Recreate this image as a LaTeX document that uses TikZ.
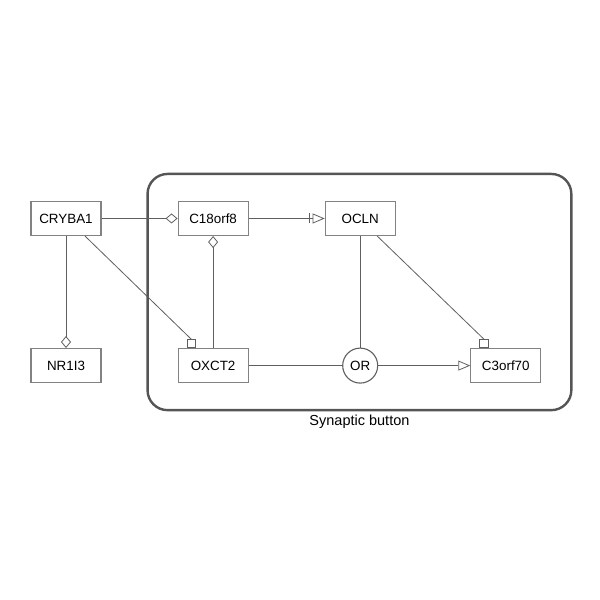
\documentclass[tikz,border=0pt]{standalone}
\usepackage{fontspec}
\setmainfont{Liberation Sans}
\usepackage{tikz}
\usetikzlibrary{arrows.meta, positioning, fit}
\definecolor{edgegray}{RGB}{95,95,95}
\definecolor{boxgray}{RGB}{130,130,130}
\definecolor{groupgray}{RGB}{85,85,85}

\begin{document}
\begin{tikzpicture}[x=1pt, y=1pt,
   node distance=76pt and 76pt,
   gene/.style={draw=boxgray, line width=1.1pt, minimum width=70pt,
                minimum height=34pt, inner sep=2pt,
                font=\fontsize{13.4}{15}\selectfont},
   gate/.style={gene, draw=edgegray, circle, minimum width=35pt,
                minimum height=35pt, inner sep=0pt},
   link/.style={draw=edgegray, line width=0.8pt},
   bind/.style={link, -{Diamond[open, length=12pt, width=10pt]}},
   reg/.style={link, -{Square[open, length=9pt, width=9pt]}},
   act/.style={link, -{Triangle[open, length=12pt, width=10pt]}},
   inh/.style={link, -{Bar[width=10pt, sep=3pt]Triangle[open, length=12pt, width=10pt]}},
   compartment/.style={draw=groupgray, line width=2.4pt, rounded corners=20pt,
                       inner xsep=30pt, inner ysep=27pt}]

  \useasboundingbox (0,0) rectangle (600,600);

  \node[gene] (cryba) at (66,381.5) {CRYBA1};
  \node[gene, right=76pt of cryba] (c18) {C18orf8};
  \node[gene, right=76pt of c18] (ocln) {OCLN};
  \node[gene, below=112pt of cryba] (nr1i3) {NR1I3};
  \node[gene, below=112pt of c18] (oxct) {OXCT2};
  \node[gate] (or) at (ocln |- oxct) {OR};
  \node[gene, right=92pt of or] (c3orf) {C3orf70};

  \node[compartment, fit=(c18)(c3orf)] (synapse) {};
  \node[below=0pt of synapse, font=\fontsize{14.5}{16}\selectfont] (synlbl) {Synaptic button};

  \draw[bind] (cryba) -- (c18);
  \draw[inh] (c18) -- (ocln);
  \draw[bind] (cryba) -- (nr1i3);
  % last bit vertical so the square sits upright
  \draw[reg] ([xshift=19pt]cryba.south) -- ([xshift=-22pt, yshift=9pt]oxct.north)
             -- ([xshift=-22pt]oxct.north);
  \draw[bind] (oxct) -- (c18);
  \draw[link] (oxct) -- (or);
  \draw[link] (ocln) -- (or);
  \draw[act] (or) -- (c3orf);
  \draw[reg] ([xshift=17pt]ocln.south) -- ([xshift=-22pt, yshift=9pt]c3orf.north)
             -- ([xshift=-22pt]c3orf.north);
\end{tikzpicture}
\end{document}
